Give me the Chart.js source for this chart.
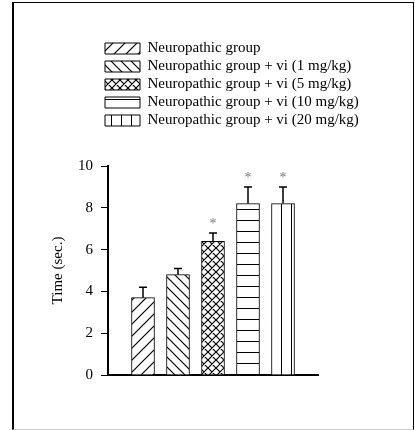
<!DOCTYPE html>
<html>
<head>
<meta charset="utf-8">
<script src="https://cdn.jsdelivr.net/npm/chart.js@4.4.0/dist/chart.umd.min.js"></script>
<style>
  html, body { margin: 0; padding: 0; background: #fff; }
  #wrap { position: relative; width: 415px; height: 430px; }
  #frame {
    position: absolute; left: 12px; top: 2px; width: 399px; height: 426px;
    border-left: 2px solid #000; border-top: 1px solid #000;
    border-right: 1px solid #000; border-bottom: 1px solid #ccc;
    pointer-events: none;
  }
</style>
</head>
<body>
<div id="wrap">
  <canvas id="chart" width="415" height="430"></canvas>
  <div id="frame"></div>
</div>
<script>
const groups = [
  'Neuropathic group',
  'Neuropathic group + vi (1 mg/kg)',
  'Neuropathic group + vi (5 mg/kg)',
  'Neuropathic group + vi (10 mg/kg)',
  'Neuropathic group + vi (20 mg/kg)'
];
const means = [3.7, 4.8, 6.4, 8.2, 8.2];
const errors = [0.5, 0.3, 0.4, 0.8, 0.8];
const marks = ['', '', '*', '*', '*'];
const yTicks = [0, 2, 4, 6, 8, 10];

const serif = "'Liberation Serif', 'Times New Roman', serif";

// hatch tiles for the bars
function makePattern(kind) {
  const c = document.createElement('canvas');
  const x = c.getContext('2d');
  let w = 10, h = 10;
  if (kind === 'fwd') { w = h = 12; }
  if (kind === 'back') { w = h = 10; }
  if (kind === 'cross') { w = h = 8; }
  if (kind === 'horiz') { w = 4; h = 11; }
  if (kind === 'vert') { w = 10; h = 4; }
  c.width = w; c.height = h;
  x.fillStyle = '#fff';
  x.fillRect(0, 0, w, h);
  x.strokeStyle = '#000';
  x.lineWidth = 1.2;
  x.beginPath();
  if (kind === 'fwd' || kind === 'cross') {
    x.moveTo(-1, h + 1); x.lineTo(w + 1, -1);
    x.moveTo(-1, 1); x.lineTo(1, -1);
    x.moveTo(w - 1, h + 1); x.lineTo(w + 1, h - 1);
  }
  if (kind === 'back' || kind === 'cross') {
    x.moveTo(-1, -1); x.lineTo(w + 1, h + 1);
    x.moveTo(w - 1, -1); x.lineTo(w + 1, 1);
    x.moveTo(-1, h - 1); x.lineTo(1, h + 1);
  }
  if (kind === 'horiz') { x.lineWidth = 1; x.moveTo(0, 0.5); x.lineTo(w, 0.5); }
  if (kind === 'vert') { x.lineWidth = 1; x.moveTo(0.5, 0); x.lineTo(0.5, h); }
  x.stroke();
  return x.createPattern(c, 'repeat');
}

const ctx = document.getElementById('chart').getContext('2d');
const patterns = ['fwd', 'back', 'cross', 'horiz', 'vert'].map(makePattern);
if (patterns[4].setTransform) patterns[4].setTransform(new DOMMatrix().translate(1, 0));

// error bars and asterisks
const errorBars = {
  id: 'errorBars',
  afterDatasetsDraw(chart) {
    const c = chart.ctx;
    const y = chart.scales.y;
    const meta = chart.getDatasetMeta(0);
    c.save();
    c.strokeStyle = '#000';
    c.lineWidth = 1.5;
    meta.data.forEach((bar, i) => {
      const top = y.getPixelForValue(means[i] + errors[i]);
      c.beginPath();
      c.moveTo(bar.x, bar.y);
      c.lineTo(bar.x, top);
      c.moveTo(bar.x - 4, top);
      c.lineTo(bar.x + 4, top);
      c.stroke();
      if (marks[i]) {
        c.fillStyle = '#777';
        c.font = '14px ' + serif;
        c.textAlign = 'center';
        c.textBaseline = 'middle';
        c.fillText(marks[i], bar.x, top - 9);
      }
    });
    c.restore();
  }
};

// legend sits as a left-aligned column and leaves room above the plot
const legendPlace = {
  id: 'legendPlace',
  beforeInit(chart) {
    const fit = chart.legend.fit;
    chart.legend.fit = function () {
      fit.call(this);
      this.height = 128;
    };
  },
  afterLayout(chart) {
    chart.legend.left += 53;
    chart.legend.right += 53;
  }
};

new Chart(ctx, {
  type: 'bar',
  data: {
    datasets: [{
      data: means.map((v, i) => ({ x: i + 1, y: v })),
      backgroundColor: patterns,
      borderColor: '#000',
      borderWidth: 1,
      barThickness: 23
    }]
  },
  options: {
    responsive: false,
    animation: false,
    layout: { padding: { left: 49, right: 97, top: 38, bottom: 55 } },
    plugins: {
      tooltip: { enabled: false },
      legend: {
        position: 'top',
        align: 'start',
        labels: {
          boxWidth: 35,
          boxHeight: 11,
          padding: 3,
          color: '#000',
          font: { family: serif, size: 15 },
          generateLabels: () => groups.map((g, i) => ({
            text: g,
            fillStyle: patterns[i],
            strokeStyle: '#000',
            lineWidth: 1,
            hidden: false,
            index: i
          }))
        }
      }
    },
    scales: {
      x: {
        type: 'linear',
        min: 0,
        max: 6,
        offset: false,
        ticks: { display: false },
        grid: { display: false, drawTicks: false, offset: false },
        border: { display: true, color: '#000', width: 2 },
        afterFit(s) { s.height = 0; }
      },
      y: {
        min: 0,
        max: 10,
        afterBuildTicks(s) { s.ticks = yTicks.map(v => ({ value: v })); },
        ticks: { color: '#000', padding: 8, font: { family: serif, size: 15 } },
        grid: { drawOnChartArea: false, tickLength: 7, color: '#000', tickWidth: 1 },
        border: { display: true, color: '#000', width: 2 },
        title: { display: true, text: 'Time (sec.)', color: '#000', padding: 0, font: { family: serif, size: 15 } },
        afterFit(s) { s.width = 59; }
      }
    }
  },
  plugins: [errorBars, legendPlace]
});
</script>
</body>
</html>
